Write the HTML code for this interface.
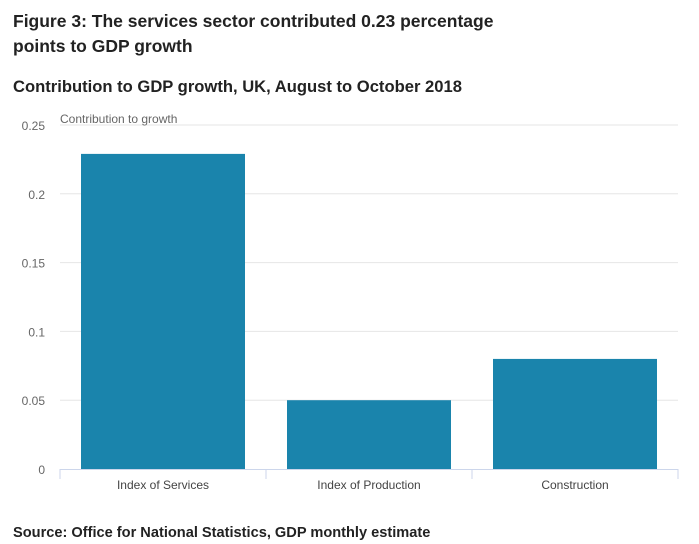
<!DOCTYPE html>
<html><head><meta charset="utf-8"><style>
body{margin:0;background:#fff;font-family:"Liberation Sans",sans-serif;}
.t{position:absolute;left:13px;font-weight:bold;color:#222;}
</style></head><body>
<div style="position:relative;width:699px;height:544px;overflow:hidden">
<div class="t" style="top:9px;font-size:17.5px;line-height:25px">Figure 3: The services sector contributed 0.23 percentage<br>points to GDP growth</div>
<div class="t" style="top:77px;font-size:16.6px">Contribution to GDP growth, UK, August to October 2018</div>
<div class="t" style="top:525px;font-size:14.6px">Source: Office for National Statistics, GDP monthly estimate</div>
<svg id="c" width="699" height="544" style="position:absolute;left:0;top:0"></svg>
</div>
<script>
const categories=["Index of Services","Index of Production","Construction"];
const values=[0.229,0.05,0.08];
const ticks=[0,0.05,0.1,0.15,0.2,0.25];
const tickLabels=["0","0.05","0.1","0.15","0.2","0.25"];
const svg=document.getElementById('c');const NS='http://www.w3.org/2000/svg';
const x0=60,x1=678,yb=469,yt=125,ymax=0.25;
const y=v=>yb-(v/ymax)*(yb-yt);
const bw=(x1-x0)/categories.length;
function mk(t,a,txt){const e=document.createElementNS(NS,t);for(const k in a)e.setAttribute(k,a[k]);if(txt!=null)e.textContent=txt;svg.appendChild(e);return e;}
ticks.forEach((v,i)=>{
 if(v>0){const g=mk('line',{x1:x0,x2:x1,y1:y(v),y2:y(v),stroke:'#e6e6e6'});
 
 }
 const l=mk('text',{x:45,y:y(v)+5,'text-anchor':'end','font-size':'12',fill:'#666','font-family':'Liberation Sans'},tickLabels[i]);
 
 
});
const yt2=mk('text',{x:60,y:123,'font-size':'12',fill:'#666','font-family':'Liberation Sans'},'Contribution to growth');


categories.forEach((c,i)=>{
 const bx=x0+i*bw+21;
 const r=mk('rect',{x:bx,y:y(values[i]),width:bw-42,height:yb-y(values[i]),fill:'#1a84ac'});
 
 
 const t=mk('text',{x:x0+i*bw+bw/2,y:489,'text-anchor':'middle','font-size':'12',fill:'#444','font-family':'Liberation Sans'},c);
 
 
});
const ax=mk('line',{x1:x0,x2:x1,y1:yb+0.5,y2:yb+0.5,stroke:'#ccd6eb'});


for(let i=0;i<=categories.length;i++){const tk=mk('line',{x1:x0+i*bw,x2:x0+i*bw,y1:yb,y2:yb+10,stroke:'#ccd6eb'});
 
 }
</script>
</body></html>
